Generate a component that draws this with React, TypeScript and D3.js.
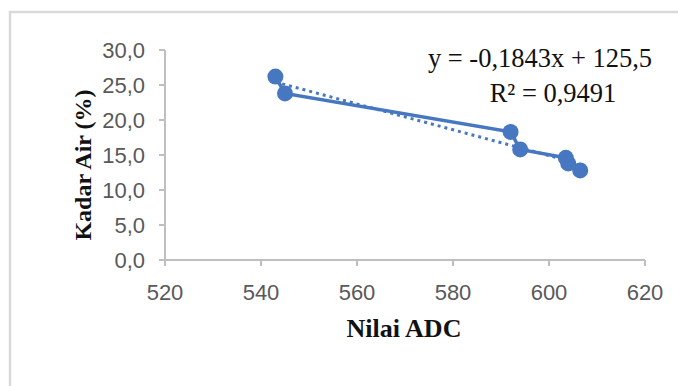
import React from 'react'
import * as d3 from 'd3'

// nilai ADC vs kadar air
const adcValues = [543, 545, 592, 594, 603.5, 604, 606.5]
const kadarAir = [26.2, 23.8, 18.3, 15.8, 14.6, 13.8, 12.8]
const xTicks = [520, 540, 560, 580, 600, 620]
const yTicks = [0, 5, 10, 15, 20, 25, 30]
const trendSlope = -0.1843
const trendIntercept = 125.5
const equationLabel = 'y = -0,1843x + 125,5'
const r2Label = 'R² = 0,9491'

const W = 678
const H = 386
const BLUE = '#4677c0'
const AXIS = '#bfbfbf'
const TICK_TEXT = '#595959'

export default function App() {
  const x = d3.scaleLinear().domain([520, 620]).range([165, 645])
  const y = d3.scaleLinear().domain([0, 30]).range([260, 50])

  const pts = adcValues.map((v, i) => [v, kadarAir[i]] as [number, number])
  const line = d3.line<[number, number]>()
    .x((d) => x(d[0]))
    .y((d) => y(d[1]))

  const x0 = d3.min(adcValues) as number
  const x1 = d3.max(adcValues) as number
  const trend: [number, number][] = [
    [x0, trendSlope * x0 + trendIntercept],
    [x1, trendSlope * x1 + trendIntercept],
  ]

  const fmt = (d: number) => d.toFixed(1).replace('.', ',')

  return (
    <svg
      width={W}
      height={H}
      style={{ position: 'fixed', left: 0, top: 0, background: '#fff' }}
    >
      <rect x={10} y={12} width={720} height={420} fill="#fff" stroke="#d9d9d9" strokeWidth={2.5} />

      {/* axes */}
      <line x1={x(520)} x2={x(620)} y1={y(0)} y2={y(0)} stroke={AXIS} strokeWidth={2} />
      <line x1={x(520)} x2={x(520)} y1={y(0)} y2={y(30)} stroke={AXIS} strokeWidth={2} />
      {xTicks.map((t) => (
        <g key={'x' + t}>
          <line x1={x(t)} x2={x(t)} y1={y(0)} y2={y(0) + 6} stroke={AXIS} strokeWidth={2} />
          <text
            x={x(t)}
            y={y(0) + 40}
            textAnchor="middle"
            fill={TICK_TEXT}
            fontSize={22}
            fontFamily="Liberation Sans, Arial, sans-serif"
          >
            {t}
          </text>
        </g>
      ))}
      {yTicks.map((t) => (
        <g key={'y' + t}>
          <line x1={x(520) - 6} x2={x(520)} y1={y(t)} y2={y(t)} stroke={AXIS} strokeWidth={2} />
          <text
            x={x(520) - 20}
            y={y(t) + 8}
            textAnchor="end"
            fill={TICK_TEXT}
            fontSize={22}
            fontFamily="Liberation Sans, Arial, sans-serif"
          >
            {fmt(t)}
          </text>
        </g>
      ))}

      {/* titles */}
      <text
        x={404}
        y={337}
        textAnchor="middle"
        fontSize={26}
        fontWeight="bold"
        fontFamily="Liberation Serif, Times New Roman, serif"
        fill="#111"
      >
        Nilai ADC
      </text>
      <text
        transform={`translate(91,${165}) rotate(-90)`}
        textAnchor="middle"
        fontSize={24}
        fontWeight="bold"
        fontFamily="Liberation Serif, Times New Roman, serif"
        fill="#111"
      >
        Kadar Air (%)
      </text>

      {/* series */}
      <path d={line(trend) || ''} fill="none" stroke={BLUE} strokeWidth={3} strokeDasharray="3,4" />
      <path d={line(pts) || ''} fill="none" stroke={BLUE} strokeWidth={3.5} />
      {pts.map((d, i) => (
        <circle key={i} cx={x(d[0])} cy={y(d[1])} r={8} fill={BLUE} />
      ))}

      {/* trendline label */}
      <text
        x={540}
        y={67}
        textAnchor="middle"
        fontSize={26.5}
        fontFamily="Liberation Serif, Times New Roman, serif"
        fill="#111"
      >
        {equationLabel}
      </text>
      <text
        x={553}
        y={102}
        textAnchor="middle"
        fontSize={26.5}
        fontFamily="Liberation Serif, Times New Roman, serif"
        fill="#111"
      >
        {r2Label}
      </text>
    </svg>
  )
}
